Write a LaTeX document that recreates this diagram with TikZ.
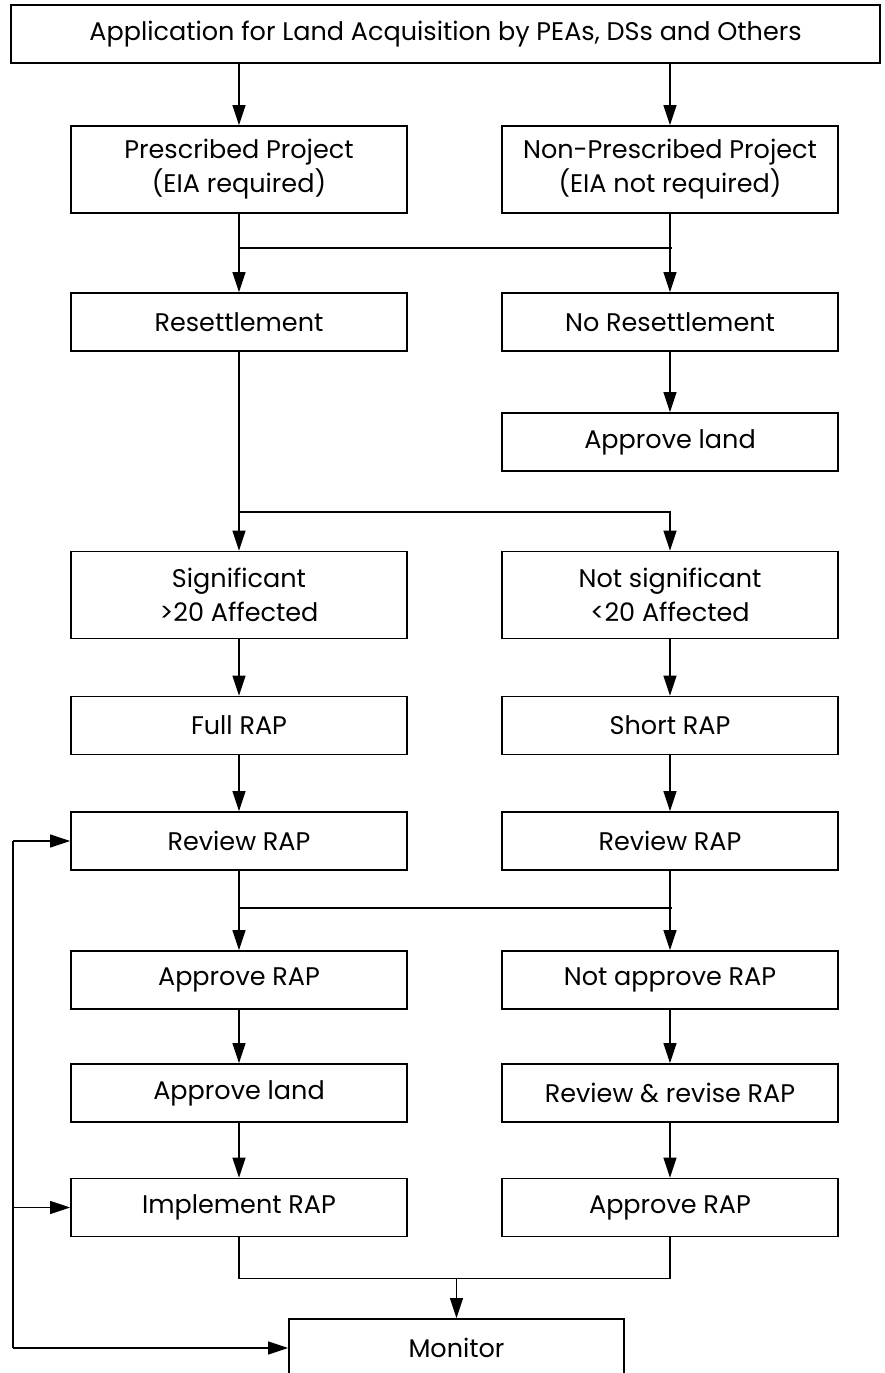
\documentclass[tikz,border=0pt]{standalone}
\usepackage{fontspec}
\setmainfont{Poppins}
\usetikzlibrary{arrows.meta}
\begin{document}
\begin{tikzpicture}[x=1pt,y=-1pt,
 box/.style={draw,line width=1.8pt,minimum width=336pt,minimum height=58pt,inner sep=0pt,font=\fontsize{25.5}{34}\selectfont,align=center},
 tall/.style={box,minimum height=87pt},
 arr/.style={line width=1.4pt,-{Triangle[length=20pt,width=13pt]}},
 ln/.style={line width=1.4pt}]
\useasboundingbox (0,0) rectangle (885,1373);
\clip (0,0) rectangle (885,1373);
% nodes
\node[box,minimum width=869pt,minimum height=58pt] (top) at (445.5,34) {Application for Land Acquisition by PEAs, DSs and Others};
\node[tall] (pp) at (239,169.5) {Prescribed Project\\(EIA required)};
\node[tall] (np) at (670,169.5) {Non-Prescribed Project\\(EIA not required)};
\node[box] (res) at (239,322) {Resettlement};
\node[box] (nores) at (670,322) {No Resettlement};
\node[box] (apl1) at (670,442) {Approve land};
\node[tall] (sig) at (239,595) {Significant\\>20 Affected};
\node[tall] (nsig) at (670,595) {Not significant\\<20 Affected};
\node[box] (full) at (239,725.5) {Full RAP};
\node[box] (short) at (670,725.5) {Short RAP};
\node[box] (rev1) at (239,841) {Review RAP};
\node[box] (rev2) at (670,841) {Review RAP};
\node[box] (apr) at (239,980) {Approve RAP};
\node[box] (napr) at (670,980) {Not approve RAP};
\node[box] (apl2) at (239,1093) {Approve land};
\node[box] (revise) at (670,1093) {Review \& revise RAP};
\node[box] (impl) at (239,1207.5) {Implement RAP};
\node[box] (apr2) at (670,1207.5) {Approve RAP};
\node[box,minimum width=335pt] (mon) at (456.5,1348) {Monitor};
% coordinates
\coordinate (j1) at (239,248);
\coordinate (j2) at (239,512);
\coordinate (j3) at (239,908);
\coordinate (fbx) at (13,0);
% connectors
\draw[arr] (pp.north |- top.south) -- (pp.north);
\draw[arr] (np.north |- top.south) -- (np.north);
\draw[arr] (pp.south) -- (res.north);
\draw[arr] (np.south) -- (nores.north);
\draw[ln] (j1) -- ([xshift=2pt]np.south |- j1);
\draw[arr] (nores.south) -- (apl1.north);
\draw[arr] (res.south) -- (sig.north);
\draw[arr] (j2) -| (nsig.north);
\draw[arr] (sig.south) -- (full.north);
\draw[arr] (nsig.south) -- (short.north);
\draw[arr] (full.south) -- (rev1.north);
\draw[arr] (short.south) -- (rev2.north);
\draw[arr] (rev1.south) -- (apr.north);
\draw[arr] (rev2.south) -- (napr.north);
\draw[ln] (j3) -- ([xshift=2pt]rev2.south |- j3);
\draw[arr] (apr.south) -- (apl2.north);
\draw[arr] (napr.south) -- (revise.north);
\draw[arr] (apl2.south) -- (impl.north);
\draw[arr] (revise.south) -- (apr2.north);
\draw[ln] (impl.south) -- ++(0,41) coordinate (j4) -| (apr2.south);
\draw[arr] (mon.north |- j4) -- (mon.north);
\draw[arr] (fbx |- rev1.west) -- (rev1.west);
\draw[ln] (fbx |- rev1.west) -- (fbx |- mon.west);
\draw[arr] (fbx |- impl.west) -- (impl.west);
\draw[arr] (fbx |- mon.west) -- (mon.west);
\end{tikzpicture}
\end{document}
